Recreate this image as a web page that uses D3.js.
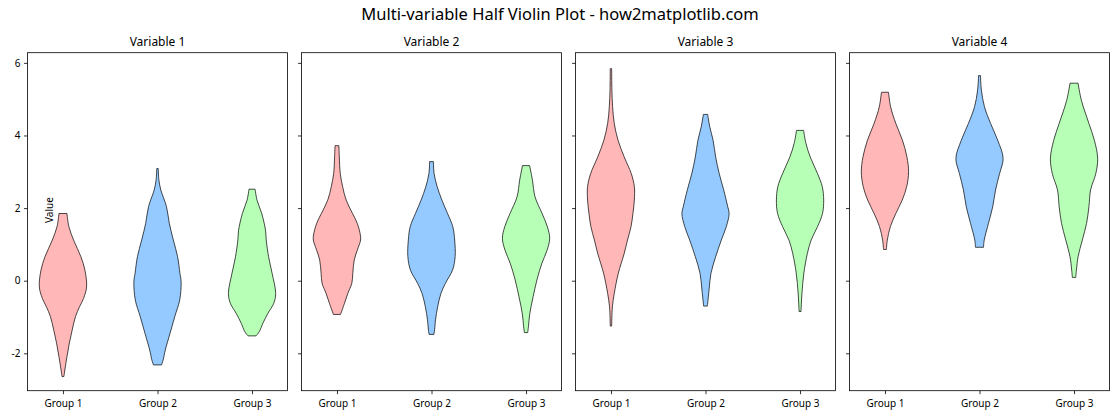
<!DOCTYPE html>
<html><head><meta charset="utf-8">
<script src="https://cdn.jsdelivr.net/npm/d3@7"></script>
<style>body{margin:0;background:#fff}svg{display:block}text{font-family:"Noto Sans","Open Sans",sans-serif;fill:#000}</style>
</head><body><div id="chart"></div>
<script>
const variables = ["Variable 1", "Variable 2", "Variable 3", "Variable 4"];
const groups = ["Group 1", "Group 2", "Group 3"];
const groupPositions = [1, 2, 3];
const yTicks = [-2, 0, 2, 4, 6];
const yTickLabels = ["-2", "0", "2", "4", "6"];
const colors = ["#ff9999", "#66b3ff", "#99ff99"];

// Density profiles: levels (value) and relative half-widths (max = 1)
const var1Levels = [
  [-2.64,-2.46,-2.09,-1.72,-1.36,-0.99,-0.72,-0.49,-0.17,0.29,0.66,1.12,1.49,1.85],
  [-2.32,-2.18,-1.91,-1.45,-0.99,-0.53,-0.03,0.2,0.66,1.12,1.58,2.04,2.5,2.77,3.09],
  [-1.52,-1.4,-1.17,-0.9,-0.62,-0.35,0.2,0.66,1.12,1.39,1.85,2.22,2.52]
];
const var1Widths = [
  [0.04,0.08,0.17,0.27,0.39,0.53,0.7,0.87,1.0,0.93,0.76,0.45,0.25,0.17],
  [0.17,0.24,0.33,0.53,0.73,0.94,1.0,0.95,0.85,0.67,0.5,0.38,0.14,0.06,0.03],
  [0.17,0.31,0.46,0.67,0.92,1.0,0.85,0.7,0.6,0.57,0.41,0.21,0.13]
];
const var2Levels = [
  [-0.93,-0.62,-0.35,-0.07,0.2,0.57,0.84,1.12,1.26,1.58,1.85,2.22,2.59,2.95,3.41,3.72],
  [-1.48,-1.36,-1.08,-0.72,-0.35,-0.07,0.29,0.66,1.12,1.49,1.85,2.22,2.59,2.95,3.28],
  [-1.43,-1.27,-0.9,-0.44,0.02,0.48,0.84,1.17,1.49,1.85,2.31,2.77,3.17]
];
const var2Widths = [
  [0.15,0.32,0.46,0.63,0.67,0.73,0.86,1.0,0.99,0.86,0.66,0.39,0.24,0.14,0.1,0.08],
  [0.1,0.13,0.17,0.26,0.4,0.59,0.89,1.0,0.98,0.9,0.68,0.44,0.24,0.11,0.08],
  [0.07,0.1,0.16,0.3,0.46,0.67,0.89,1.0,0.9,0.68,0.38,0.27,0.15]
];
const var3Levels = [
  [-1.25,-0.72,-0.35,0.2,0.75,1.12,1.49,1.85,2.22,2.59,2.95,3.41,3.87,4.33,4.79,5.25,5.84],
  [-0.7,-0.26,0.2,0.66,1.12,1.49,1.85,2.04,2.5,2.95,3.41,3.87,4.24,4.58],
  [-0.85,-0.35,0.2,0.75,1.12,1.49,1.85,2.22,2.59,2.95,3.41,3.78,4.14]
];
const var3Widths = [
  [0.03,0.06,0.14,0.31,0.56,0.7,0.85,0.93,0.99,0.99,0.86,0.56,0.3,0.14,0.07,0.04,0.03],
  [0.08,0.15,0.23,0.43,0.67,0.88,1.0,0.94,0.77,0.58,0.43,0.32,0.18,0.09],
  [0.04,0.08,0.16,0.31,0.47,0.74,0.95,1.0,0.94,0.74,0.43,0.25,0.15]
];
const var4Levels = [
  [0.86,1.12,1.49,1.85,2.22,2.59,3.0,3.41,3.87,4.33,4.79,5.19],
  [0.92,1.12,1.58,2.04,2.5,2.95,3.37,3.87,4.33,4.79,5.25,5.65],
  [0.09,0.29,0.66,1.12,1.58,2.04,2.5,2.95,3.37,3.87,4.33,4.97,5.44]
];
const var4Widths = [
  [0.06,0.1,0.23,0.46,0.73,0.92,1.0,0.93,0.74,0.46,0.24,0.15],
  [0.17,0.2,0.38,0.56,0.68,0.85,1.0,0.77,0.47,0.21,0.08,0.04],
  [0.07,0.1,0.17,0.35,0.53,0.63,0.7,0.92,1.0,0.86,0.63,0.31,0.17]
];
const allLevels = [var1Levels, var2Levels, var3Levels, var4Levels];
const allWidths = [var1Widths, var2Widths, var3Widths, var4Widths];

const W = 1120, H = 420;
const plotTop = 52.7, plotBottom = 390.7, panelW = 260;
const panelLefts = [27.5, 301.5, 575.5, 849.5];
const halfWidth = 0.25;

const svg = d3.select("#chart").append("svg").attr("width", W).attr("height", H);

svg.append("text").attr("x", 560).attr("y", 16).attr("text-anchor", "middle")
  .attr("dominant-baseline", "middle").style("font-size", "16.5px")
  .text("Multi-variable Half Violin Plot - how2matplotlib.com");

const y = d3.scaleLinear().domain([-3.03, 6.28]).range([plotBottom, plotTop]);

variables.forEach((vname, vi) => {
  const x0 = panelLefts[vi];
  const x = d3.scaleLinear().domain([0.625, 3.375]).range([x0, x0 + panelW]);
  const g = svg.append("g");

  groups.forEach((gname, gi) => {
    const lv = allLevels[vi][gi], wd = allWidths[vi][gi];
    const pts = lv.map((v, i) => ({v, w: wd[i]}));
    const pos = groupPositions[gi];
    const area = d3.area()
      .y(d => y(d.v))
      .x0(d => x(pos - d.w * halfWidth))
      .x1(d => x(pos + d.w * halfWidth))
      .curve(d3.curveCatmullRom.alpha(0.5));
    g.append("path").attr("d", area(pts))
      .attr("fill", colors[gi]).attr("fill-opacity", 0.7)
      .attr("stroke", "#000").attr("stroke-opacity", 0.7).attr("stroke-width", 1);
  });

  const yAxis = d3.axisLeft(y).tickValues(yTicks).tickSize(3.5).tickPadding(3.5)
    .tickFormat((d, i) => vi === 0 ? yTickLabels[i] : "");
  const ya = svg.append("g").attr("transform", `translate(${x0},0)`).call(yAxis);
  ya.select(".domain").remove();
  ya.selectAll("text").style("font-size", "10px").style("font-family", '"Noto Sans","Open Sans",sans-serif');
  ya.selectAll("line").attr("stroke", "#000").attr("stroke-width", 0.8);

  const xAxis = d3.axisBottom(x).tickValues(groupPositions).tickSize(3.5).tickPadding(5.5)
    .tickFormat((d, i) => groups[i]);
  const xa = svg.append("g").attr("transform", `translate(0,${plotBottom})`).call(xAxis);
  xa.select(".domain").remove();
  xa.selectAll("text").style("font-size", "10px").style("font-family", '"Noto Sans","Open Sans",sans-serif');
  xa.selectAll("line").attr("stroke", "#000").attr("stroke-width", 0.8);

  svg.append("rect").attr("x", x0).attr("y", plotTop).attr("width", panelW).attr("height", plotBottom - plotTop)
    .attr("fill", "none").attr("stroke", "#000").attr("stroke-width", 0.8);

  svg.append("text").attr("x", x0 + panelW / 2).attr("y", plotTop - 6.5)
    .attr("text-anchor", "middle").style("font-size", "12px").text(vname);
});

svg.append("text").attr("transform", "translate(52.5,223) rotate(-90)")
  .attr("text-anchor", "start").style("font-size", "10px").text("Value");
</script></body></html>
